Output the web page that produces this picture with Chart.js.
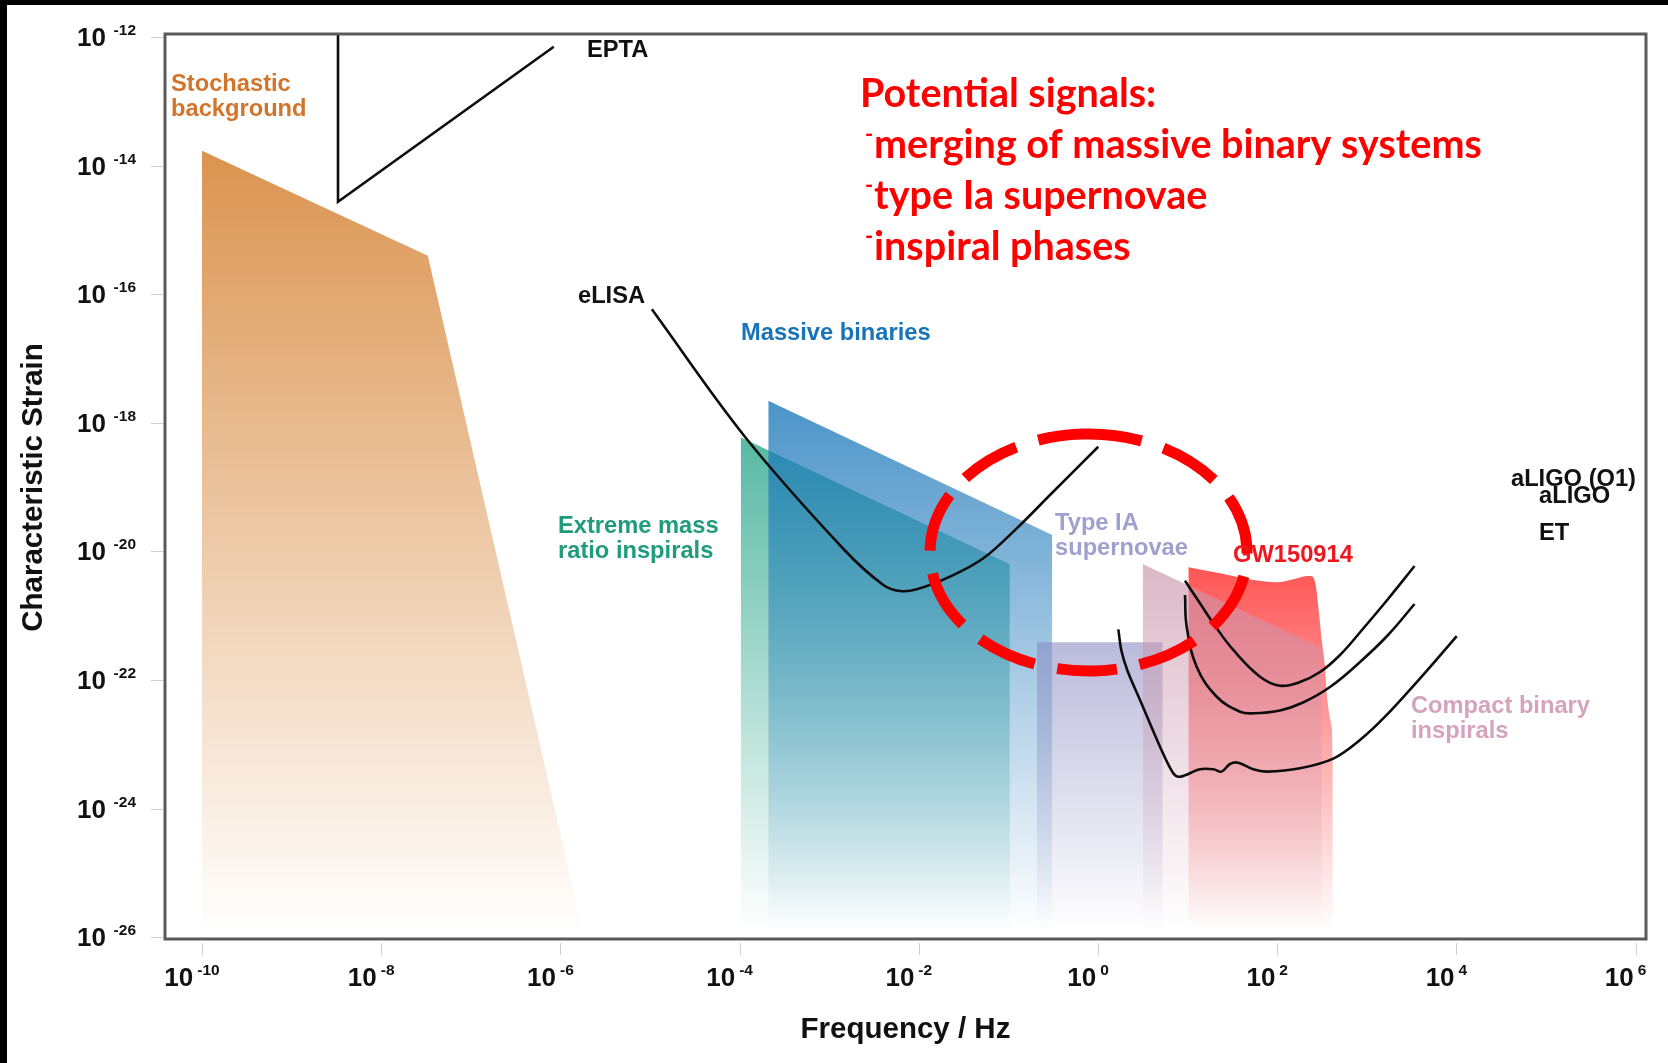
<!DOCTYPE html>
<html>
<head>
<meta charset="utf-8">
<title>Gravitational wave spectrum</title>
<script src="https://cdn.jsdelivr.net/npm/chart.js@4.4.1/dist/chart.umd.min.js"></script>
<style>
  html, body { margin: 0; padding: 0; background: #fff; }
  #wrap { position: relative; width: 1668px; height: 1063px; overflow: hidden; }
  #wrap canvas { position: absolute; left: 0; top: 0; }
  .edge-top { position: absolute; left: 0; top: 0; width: 1668px; height: 5px; background: #000; }
  .edge-left { position: absolute; left: 0; top: 0; width: 7px; height: 1063px; background: #000; }
</style>
</head>
<body>
<div id="wrap">
  <canvas id="gwChart" width="1668" height="1063"></canvas>
  <div class="edge-top"></div>
  <div class="edge-left"></div>
</div>
<script>
// All values are log10 exponents: [frequency in Hz, characteristic strain]
const frequencyTicks = [-10, -8, -6, -4, -2, 0, 2, 4, 6];
const strainTicks = [-26, -24, -22, -20, -18, -16, -14, -12];

// Upper edges of the source regions (filled down to the axis)
const stochasticEdge = [[-10, -13.77], [-7.48, -15.40], [-5.73, -26.03]];
const emriEdge = [[-3.988, -18.225], [-0.984, -20.20]];
const massiveBinaryEdge = [[-3.680, -17.656], [-0.510, -19.745]];
const supernovaEdge = [[-0.684, -21.414], [0.722, -21.414]];
const compactBinaryEdge = [[0.499, -20.196], [2.497, -21.507]];
const gw150914Edge = [
    [1.008, -20.247], [1.362, -20.341], [1.733, -20.445], [1.994, -20.481], [2.18, -20.434],
    [2.347, -20.383], [2.396, -20.393], [2.433, -20.549], [2.459, -20.86], [2.497, -21.378],
    [2.533, -21.793], [2.559, -22.311], [2.608, -22.726], [2.619, -23.24], [2.622, -26.03]
];

// Detector sensitivity curves
const eptaCurve = [[-8.482, -11.953], [-8.482, -14.561], [-6.074, -12.151]];
const elisaCurve = [
    [-4.979, -16.235], [-3.941, -18.216], [-2.83, -19.978], [-2.396, -20.522], [-2.21, -20.616],
    [-2.023, -20.589], [-1.652, -20.393], [-1.28, -20.107], [-0.907, -19.641], [-0.536, -19.123],
    [0.003, -18.372]
];
const aligoO1Curve = [
    [0.971, -20.456], [1.138, -20.807], [1.313, -21.171], [1.51, -21.533], [1.808, -21.948],
    [2.031, -22.089], [2.254, -22.031], [2.478, -21.876], [2.701, -21.611], [2.946, -21.222],
    [3.237, -20.74], [3.533, -20.227]
];
const aligoCurve = [
    [0.971, -20.678], [0.99, -21.171], [1.101, -21.793], [1.325, -22.26], [1.585, -22.493],
    [1.733, -22.518], [2.031, -22.474], [2.288, -22.35], [2.589, -22.109], [2.924, -21.72],
    [3.237, -21.3], [3.533, -20.818]
];
const etCurve = [
    [0.227, -21.212], [0.262, -21.55], [0.33, -21.86], [0.469, -22.311], [0.692, -23.037],
    [0.84, -23.451], [0.915, -23.504], [1.138, -23.389], [1.287, -23.389], [1.38, -23.425],
    [1.473, -23.306], [1.566, -23.286], [1.733, -23.389], [1.883, -23.425], [2.254, -23.373],
    [2.632, -23.218], [2.924, -22.933], [3.203, -22.571], [3.644, -21.896], [4.004, -21.316]
];

const signalNotes = ['Potential signals:', 'merging of massive binary systems', 'type Ia supernovae', 'inspiral phases'];

// Label anchors (left edge / baseline of first line) in the same log10 units
const regionLabels = [
    { lines: ['Stochastic', 'background'], at: [-10.346, -12.84], color: '#D2752A' },
    { lines: ['EPTA'], at: [-5.703, -12.311], color: '#111' },
    { lines: ['eLISA'], at: [-5.804, -16.137], color: '#111' },
    { lines: ['Massive binaries'], at: [-3.984, -16.712], color: '#1874B8' },
    { lines: ['Extreme mass', 'ratio inspirals'], at: [-6.027, -19.714], color: '#1F9B7D' },
    { lines: ['Type IA', 'supernovae'], at: [-0.48, -19.667], color: '#A0A0CE' },
    { lines: ['GW150914'], at: [1.507, -20.157], color: '#F0161E' },
    { lines: ['Compact binary', 'inspirals'], at: [3.493, -22.513], color: '#D5A3BD' },
    { lines: ['aLIGO (O1)'], at: [4.609, -18.983], color: '#111' },
    { lines: ['aLIGO'], at: [4.922, -19.247], color: '#111' },
    { lines: ['ET'], at: [4.922, -19.823], color: '#111' }
];
const signalNotesAt = [-2.656, -13.09];
const highlightRing = { f: [-1.875, 1.663], h: [-21.86, -18.174] };

const FADE_END = -25.9;
const SANS = '"Liberation Sans", Arial, Helvetica, sans-serif';
const NOTE_FONT = 'Lato, "Open Sans", sans-serif';

const toPoints = arr => arr.map(([f, h]) => ({ x: Math.pow(10, f), y: Math.pow(10, h) }));

// vertical fade from the top of a region down to white near the axis
function fadeFill(rgb, alpha) {
    return (context) => {
        const { ctx, chartArea, scales } = context.chart;
        if (!chartArea) return `rgba(${rgb},${alpha})`;
        const top = scales.y.getPixelForValue(Math.max(...context.dataset.data.map(p => p.y)));
        const bottom = scales.y.getPixelForValue(Math.pow(10, FADE_END));
        const g = ctx.createLinearGradient(0, top, 0, bottom);
        g.addColorStop(0, `rgba(${rgb},${alpha})`);
        g.addColorStop(1, `rgba(${rgb},0)`);
        return g;
    };
}

function band(label, edge, rgb, alpha, smooth) {
    return {
        label,
        data: toPoints(edge),
        fill: 'start',
        borderWidth: 0,
        borderColor: 'transparent',
        pointRadius: 0,
        tension: 0,
        cubicInterpolationMode: smooth ? 'monotone' : 'default',
        backgroundColor: fadeFill(rgb, alpha)
    };
}

function curve(label, pts, tension) {
    return {
        label,
        data: toPoints(pts),
        fill: false,
        borderColor: '#0d0d0d',
        borderWidth: 2.6,
        pointRadius: 0,
        tension,
        borderJoinStyle: 'miter'
    };
}

function drawFrame(chart) {
    const { ctx, chartArea: a, scales } = chart;
    ctx.save();
    ctx.strokeStyle = '#cfcfcf';
    ctx.lineWidth = 1;
    strainTicks.forEach(e => {
        const y = Math.round(scales.y.getPixelForValue(Math.pow(10, e))) + 0.5;
        ctx.beginPath();
        ctx.moveTo(a.left - 14, y);
        ctx.lineTo(a.left - 2, y);
        ctx.stroke();
    });
    frequencyTicks.forEach(e => {
        const x = Math.round(scales.x.getPixelForValue(Math.pow(10, e))) + 0.5;
        ctx.beginPath();
        ctx.moveTo(x, a.bottom + 4);
        ctx.lineTo(x, a.bottom + 16);
        ctx.stroke();
    });
    ctx.strokeStyle = '#5a5a5a';
    ctx.lineWidth = 3;
    ctx.strokeRect(a.left, a.top, a.right - a.left, a.bottom - a.top);

    // dashed ring around the eLISA / ground-based overlap
    const x0 = scales.x.getPixelForValue(Math.pow(10, highlightRing.f[0]));
    const x1 = scales.x.getPixelForValue(Math.pow(10, highlightRing.f[1]));
    const y0 = scales.y.getPixelForValue(Math.pow(10, highlightRing.h[1]));
    const y1 = scales.y.getPixelForValue(Math.pow(10, highlightRing.h[0]));
    const start = -Math.PI / 2 - 0.04;
    ctx.strokeStyle = '#ff0000';
    ctx.lineWidth = 11;
    ctx.setLineDash([60, 23]);
    ctx.beginPath();
    ctx.ellipse((x0 + x1) / 2, (y0 + y1) / 2, (x1 - x0) / 2, (y1 - y0) / 2, 0, start, start + Math.PI * 2);
    ctx.stroke();
    ctx.restore();
}

function exponentText(e) {
    return e < 0 ? '-' + Math.abs(e) : String(e);
}

function drawAxisText(chart) {
    const { ctx, chartArea: a, scales } = chart;
    ctx.save();
    ctx.fillStyle = '#111';
    ctx.textBaseline = 'alphabetic';

    // y tick labels: 10 with raised exponent
    strainTicks.forEach(e => {
        const y = scales.y.getPixelForValue(Math.pow(10, e));
        ctx.textAlign = 'right';
        ctx.font = `bold 26px ${SANS}`;
        ctx.fillText('10', a.left - 59, y + 9);
        ctx.font = `bold 15.5px ${SANS}`;
        ctx.fillText(exponentText(e), a.left - 29, y - 2);
    });

    // x tick labels
    frequencyTicks.forEach(e => {
        const x = scales.x.getPixelForValue(Math.pow(10, e));
        ctx.font = `bold 26px ${SANS}`;
        const wBase = ctx.measureText('10').width;
        ctx.font = `bold 15.5px ${SANS}`;
        const wExp = ctx.measureText(exponentText(e)).width;
        const left = x - 10 - (wBase + 4 + wExp) / 2;
        ctx.textAlign = 'left';
        ctx.font = `bold 26px ${SANS}`;
        ctx.fillText('10', left, a.bottom + 47);
        ctx.font = `bold 15.5px ${SANS}`;
        ctx.fillText(exponentText(e), left + wBase + 4, a.bottom + 36);
    });

    // axis titles
    ctx.font = `bold 29.5px ${SANS}`;
    ctx.textAlign = 'center';
    ctx.fillText('Frequency / Hz', (a.left + a.right) / 2, a.bottom + 99);
    ctx.translate(42, (a.top + a.bottom) / 2 + 1);
    ctx.rotate(-Math.PI / 2);
    ctx.fillText('Characteristic Strain', 0, 0);
    ctx.restore();
}

function drawRegionLabels(chart) {
    const { ctx, scales } = chart;
    ctx.save();
    ctx.font = `bold 23.7px ${SANS}`;
    ctx.textAlign = 'left';
    ctx.textBaseline = 'alphabetic';
    regionLabels.forEach(lbl => {
        const x = scales.x.getPixelForValue(Math.pow(10, lbl.at[0]));
        const y = scales.y.getPixelForValue(Math.pow(10, lbl.at[1]));
        ctx.fillStyle = lbl.color;
        lbl.lines.forEach((line, i) => ctx.fillText(line, x, y + i * 25));
    });

    // red note block, dash-prefixed list lines
    const nx = scales.x.getPixelForValue(Math.pow(10, signalNotesAt[0]));
    const ny = scales.y.getPixelForValue(Math.pow(10, signalNotesAt[1]));
    ctx.fillStyle = '#ff0000';
    signalNotes.forEach((line, i) => {
        const base = ny + i * 51;
        if (i === 0) {
            ctx.font = `bold 39.5px ${NOTE_FONT}`;
            ctx.fillText(line, nx, base);
        } else {
            ctx.font = `bold 22px ${NOTE_FONT}`;
            ctx.fillText('-', nx + 5, base - 16);
            ctx.font = `bold 39.5px ${NOTE_FONT}`;
            ctx.fillText(line, nx + 14, base);
        }
    });
    ctx.restore();
}

const spectrumDecor = {
    id: 'spectrumDecor',
    afterDatasetsDraw(chart) {
        drawFrame(chart);
    },
    afterDraw(chart) {
        drawAxisText(chart);
        drawRegionLabels(chart);
    }
};

document.addEventListener('DOMContentLoaded', () => {
    const canvas = document.getElementById('gwChart');

    // first dataset is drawn on top
    const datasets = [
        curve('eLISA', elisaCurve, 0.35),
        curve('EPTA', eptaCurve, 0),
        curve('aLIGO (O1)', aligoO1Curve, 0.4),
        curve('aLIGO', aligoCurve, 0.4),
        curve('ET', etCurve, 0.35),
        band('Compact binary inspirals', compactBinaryEdge, '202,150,173', 0.67, false),
        band('GW150914', gw150914Edge, '255,85,85', 1, true),
        band('Type IA supernovae', supernovaEdge, '140,140,195', 0.6, false),
        band('Massive binaries', massiveBinaryEdge, '25,118,185', 0.78, false),
        band('Extreme mass ratio inspirals', emriEdge, '88,185,163', 1, false),
        band('Stochastic background', stochasticEdge, '219,148,80', 1, false)
    ];

    new Chart(canvas, {
        type: 'line',
        data: { datasets },
        options: {
            responsive: false,
            animation: false,
            devicePixelRatio: 1,
            layout: { padding: { left: 165, top: 34, right: 22, bottom: 124 } },
            scales: {
                x: {
                    type: 'logarithmic',
                    display: false,
                    min: Math.pow(10, -10.413),
                    max: Math.pow(10, 6.116)
                },
                y: {
                    type: 'logarithmic',
                    display: false,
                    min: Math.pow(10, -26.028),
                    max: Math.pow(10, -11.953)
                }
            },
            plugins: {
                legend: { display: false },
                tooltip: { enabled: false }
            }
        },
        plugins: [spectrumDecor]
    });
});
</script>
</body>
</html>
